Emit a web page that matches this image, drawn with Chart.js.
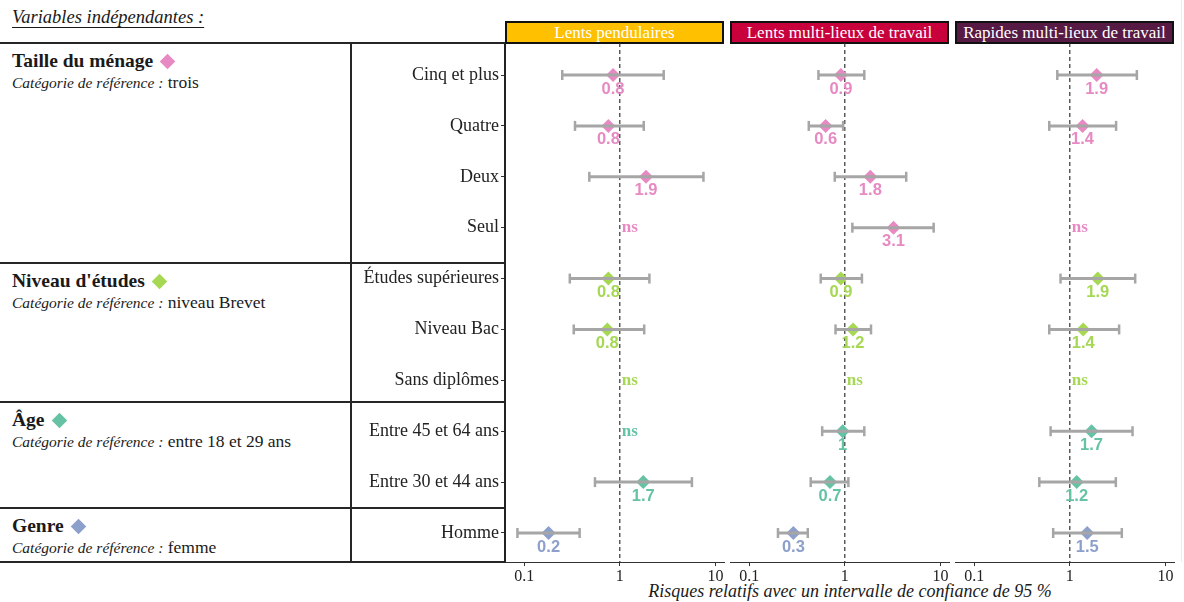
<!DOCTYPE html>
<html lang="fr">
<head>
<meta charset="UTF-8">
<title>Risques relatifs</title>
<script src="https://cdn.jsdelivr.net/npm/chart.js"></script>
<style>
  body { margin: 0; background: #fff; font-family: "Liberation Serif", serif; color: #1a1a1a; }
  #page { position: relative; width: 1184px; height: 602px; overflow: hidden; background: #fff; }
  .rule { position: absolute; background: #262626; }
  .strip { position: absolute; top: 21px; height: 23px; box-sizing: border-box; border: 2px solid #111;
           color: #fff; font-size: 17px; line-height: 19px; text-align: center; white-space: nowrap; overflow: hidden; }
  .group { position: absolute; left: 12px; white-space: nowrap; }
  .group .head { font-weight: bold; font-size: 19.5px; line-height: 22px; }
  .group .head i { display: inline-block; width: 11px; height: 11px; transform: rotate(45deg); margin-left: 9px; }
  .group .sub { font-size: 17.5px; line-height: 21px; }
  .group .sub i { font-size: 15.5px; }
  .panel { position: absolute; }
</style>
</head>
<body>
<div id="page">
  <div style="position:absolute;left:12px;top:7px;font-size:18.5px;font-style:italic;text-decoration:underline;text-underline-offset:4px;">Variables indépendantes :</div>
  <div id="axisTitle" style="position:absolute;left:515px;top:581px;width:670px;text-align:center;font-size:18px;font-style:italic;white-space:nowrap;">Risques relatifs avec un intervalle de confiance de 95 %</div>
</div>

<script>
  // Row categories (top to bottom) and which group each belongs to
  const rowLabels = ['Cinq et plus', 'Quatre', 'Deux', 'Seul', 'Études supérieures', 'Niveau Bac',
                     'Sans diplômes', 'Entre 45 et 64 ans', 'Entre 30 et 44 ans', 'Homme'];
  const rowGroup = [0, 0, 0, 0, 1, 1, 1, 2, 2, 3];

  const groupNames = ['Taille du ménage', "Niveau d'études", 'Âge', 'Genre'];
  const groupRefs = ['trois', 'niveau Brevet', 'entre 18 et 29 ans', 'femme'];

  const panelNames = ['Lents pendulaires', 'Lents multi-lieux de travail', 'Rapides multi-lieux de travail'];

  // Relative risks and 95% CI per panel (null = not significant / not shown)
  const rrLentsPend = [0.85, 0.76, 1.88, null, 0.76, 0.74, null, null, 1.76, 0.18];
  const loLentsPend = [0.25, 0.34, 0.48, null, 0.30, 0.33, null, null, 0.55, 0.085];
  const hiLentsPend = [2.88, 1.78, 7.5, null, 2.04, 1.80, null, null, 5.68, 0.38];
  const labLentsPend = ['0.8', '0.8', '1.9', 'ns', '0.8', '0.8', 'ns', 'ns', '1.7', '0.2'];

  const rrLentsMulti = [0.91, 0.63, 1.85, 3.23, 0.91, 1.22, null, 0.95, 0.70, 0.29];
  const loLentsMulti = [0.53, 0.42, 0.785, 1.2, 0.56, 0.80, null, 0.58, 0.44, 0.20];
  const hiLentsMulti = [1.60, 0.96, 4.39, 8.5, 1.51, 1.88, null, 1.6, 1.09, 0.41];
  const labLentsMulti = ['0.9', '0.6', '1.8', '3.1', '0.9', '1.2', 'ns', '1', '0.7', '0.3'];

  const rrRapidesMulti = [1.91, 1.36, null, null, 1.96, 1.38, null, 1.69, 1.18, 1.52];
  const loRapidesMulti = [0.74, 0.61, null, null, 0.80, 0.61, null, 0.63, 0.48, 0.67];
  const hiRapidesMulti = [5.03, 3.05, null, null, 4.83, 3.28, null, 4.53, 3.03, 3.5];
  const labRapidesMulti = ['1.9', '1.4', '', 'ns', '1.9', '1.4', 'ns', '1.7', '1.2', '1.5'];

  const xTicks = [0.1, 1, 10];

  const rr = [rrLentsPend, rrLentsMulti, rrRapidesMulti];
  const lo = [loLentsPend, loLentsMulti, loRapidesMulti];
  const hi = [hiLentsPend, hiLentsMulti, hiRapidesMulti];
  const lab = [labLentsPend, labLentsMulti, labRapidesMulti];

  // Styles / layout
  const groupColors = ['#E78AC3', '#A6D854', '#66C2A5', '#8DA0CB'];
  const stripColors = ['#FFC000', '#C8003C', '#561A45'];
  const barGrey = '#A6A6A6';
  const serif = '"Liberation Serif", serif';
  const sans = '"Liberation Sans", Arial, sans-serif';
  const areaTop = 43, areaHeight = 519, axisHeight = 30, panelWidth = 220;
  const panelLeft = [505, 730, 955];
  const groupTops = [43, 263, 402, 508];
  const yMin = 0.371, yMax = 10.57;   // linear row index, reversed
  const xMin = 0.063, xMax = 12.6;

  const page = document.getElementById('page');

  function rule(left, top, width, height, color) {
    const d = document.createElement('div');
    d.className = 'rule';
    Object.assign(d.style, { left: left + 'px', top: top + 'px', width: width + 'px', height: height + 'px' });
    if (color) d.style.background = color;
    page.appendChild(d);
    return d;
  }

  // left table
  [43, 263, 402, 508, 562].forEach(y => rule(0, y - 1, 505, 2));
  rule(350, 43, 2, 520);
  rule(1181, 0, 1, 562, '#ececec');

  groupNames.forEach((name, g) => {
    const d = document.createElement('div');
    d.className = 'group';
    d.style.top = (groupTops[g] + 7) + 'px';
    d.innerHTML = '<div class="head">' + name + '<i style="background:' + groupColors[g] + '"></i></div>' +
                  '<div class="sub"><i>Catégorie de référence :</i> ' + groupRefs[g] + '</div>';
    page.appendChild(d);
  });

  // strips
  panelNames.forEach((name, p) => {
    const d = document.createElement('div');
    d.className = 'strip';
    d.style.left = panelLeft[p] + 'px';
    d.style.width = (panelWidth - 1) + 'px';
    d.style.background = stripColors[p];
    d.textContent = name;
    page.appendChild(d);
  });

  function makePanel(p) {
    const yAxisWidth = p === 0 ? 155 : 0;
    const w = panelWidth + yAxisWidth, h = areaHeight + axisHeight;
    const box = document.createElement('div');
    box.className = 'panel';
    box.style.left = (panelLeft[p] - yAxisWidth) + 'px';
    box.style.top = areaTop + 'px';
    const canvas = document.createElement('canvas');
    canvas.width = w; canvas.height = h;
    canvas.style.width = w + 'px'; canvas.style.height = h + 'px';
    box.appendChild(canvas);
    page.appendChild(box);

    const datasets = [];
    rowLabels.forEach((_, i) => {
      if (lo[p][i] == null) return;
      datasets.push({
        type: 'line',
        data: [{ x: lo[p][i], y: i + 1 }, { x: hi[p][i], y: i + 1 }],
        borderColor: barGrey,
        borderWidth: 3,
        pointStyle: 'line',
        pointRotation: 90,
        pointRadius: 5,
        pointBorderWidth: 2.5,
        pointBorderColor: barGrey,
        fill: false
      });
    });
    const pts = [], ptColors = [];
    rowLabels.forEach((_, i) => {
      if (rr[p][i] == null) return;
      pts.push({ x: rr[p][i], y: i + 1 });
      ptColors.push(groupColors[rowGroup[i]]);
    });
    datasets.push({
      data: pts,
      pointStyle: 'rectRot',
      pointRadius: 7,
      pointBackgroundColor: ptColors,
      pointBorderWidth: 0
    });

    const refLine = {
      id: 'refLine',
      beforeDatasetsDraw(chart) {
        const { ctx, chartArea } = chart;
        const x = chart.scales.x.getPixelForValue(1);
        ctx.save();
        ctx.strokeStyle = '#333';
        ctx.lineWidth = 1.2;
        ctx.setLineDash([4, 3]);
        ctx.beginPath();
        ctx.moveTo(x, chartArea.top);
        ctx.lineTo(x, chartArea.bottom);
        ctx.stroke();
        ctx.restore();
      }
    };

    const valueLabels = {
      id: 'valueLabels',
      afterDatasetsDraw(chart) {
        const { ctx } = chart;
        const xs = chart.scales.x, ys = chart.scales.y;
        ctx.save();
        lab[p].forEach((t, i) => {
          if (!t) return;
          const y = ys.getPixelForValue(i + 1);
          ctx.fillStyle = groupColors[rowGroup[i]];
          if (t === 'ns') {
            ctx.font = 'bold 17px ' + serif;
            ctx.textAlign = 'left';
            ctx.textBaseline = 'middle';
            ctx.fillText(t, xs.getPixelForValue(1) + 2, y);
          } else {
            ctx.font = 'bold 16.5px ' + sans;
            ctx.textAlign = 'center';
            ctx.textBaseline = 'middle';
            ctx.fillText(t, xs.getPixelForValue(rr[p][i]), y + 14);
          }
        });
        ctx.restore();
      }
    };

    return new Chart(canvas, {
      type: 'scatter',
      data: { datasets },
      plugins: [refLine, valueLabels],
      options: {
        responsive: false,
        animation: false,
        events: [],
        layout: { padding: 0, autoPadding: false },
        plugins: { legend: { display: false }, tooltip: { enabled: false } },
        scales: {
          x: {
            type: 'logarithmic',
            min: xMin,
            max: xMax,
            afterBuildTicks: s => { s.ticks = xTicks.map(v => ({ value: v })); },
            afterFit: s => { s.height = axisHeight; s.paddingLeft = 0; s.paddingRight = 0; },
            ticks: { callback: v => String(v), font: { family: serif, size: 16 }, color: '#222',
                     padding: 1, maxRotation: 0, autoSkip: false },
            grid: { drawOnChartArea: false, drawTicks: true, tickLength: 4, color: '#333' },
            border: { display: true, color: '#333', width: 1 }
          },
          y: {
            type: 'linear',
            reverse: true,
            min: yMin,
            max: yMax,
            display: p === 0,
            afterBuildTicks: s => { s.ticks = rowLabels.map((_, i) => ({ value: i + 1 })); },
            afterFit: s => { s.width = yAxisWidth; s.paddingTop = 0; s.paddingBottom = 0; },
            ticks: { callback: v => rowLabels[Math.round(v) - 1], font: { family: serif, size: 18 },
                     color: '#222', padding: 2, autoSkip: false },
            grid: { drawOnChartArea: false, drawTicks: true, tickLength: 4, color: '#333' },
            border: { display: true, color: '#222', width: 2 }
          }
        }
      }
    });
  }

  [0, 1, 2].forEach(makePanel);
</script>
</body>
</html>
